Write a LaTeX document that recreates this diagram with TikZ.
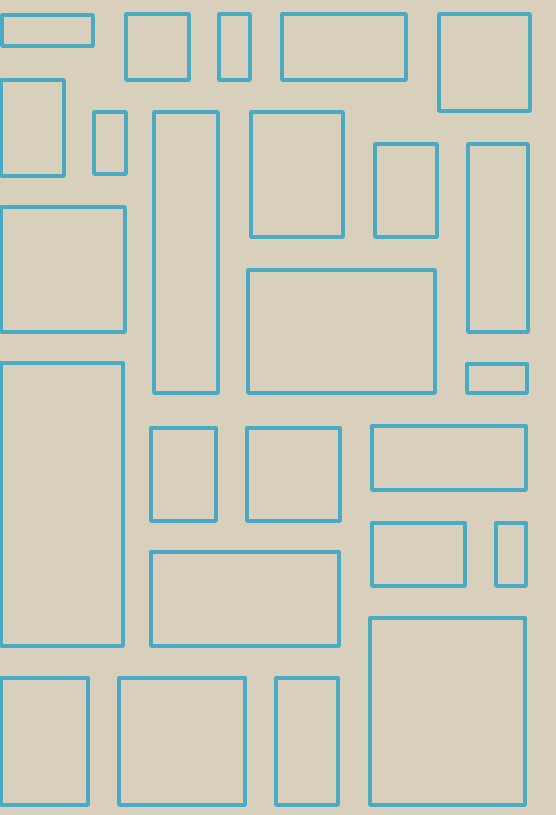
\documentclass[tikz,border=0pt]{standalone}
\definecolor{paper}{RGB}{216,207,189}
\definecolor{ink}{RGB}{74,170,196}
\tikzset{block/.style={draw=ink, line width=3.4pt, line join=round}}
\begin{document}
\begin{tikzpicture}[x=1pt,y=-1pt]
\fill[paper] (0,0) rectangle (556,815);
\useasboundingbox (0,0) rectangle (556,815);
\begin{scope}
\clip (0,0) rectangle (556,815);
% row 1
\draw[block] (2,15) rectangle (93,46);
\draw[block] (126,14) rectangle (189,80);
\draw[block] (219,14) rectangle (250,80);
\draw[block] (282,14) rectangle (406,80);
\draw[block] (439,14) rectangle (530,111);
% row 2
\draw[block] (1,80) rectangle (64,176);
\draw[block] (94,112) rectangle (126,174);
\draw[block] (154,112) rectangle (218,393);
\draw[block] (251,112) rectangle (343,237);
\draw[block] (375,144) rectangle (437,237);
\draw[block] (468,144) rectangle (528,332);
% row 3
\draw[block] (1,207) rectangle (125,332);
\draw[block] (248,270) rectangle (435,393);
\draw[block] (467,364) rectangle (527,393);
% row 4
\draw[block] (1,363) rectangle (123,646);
\draw[block] (151,428) rectangle (216,521);
\draw[block] (247,428) rectangle (340,521);
\draw[block] (372,426) rectangle (526,490);
\draw[block] (372,523) rectangle (465,586);
\draw[block] (496,523) rectangle (526,586);
\draw[block] (151,552) rectangle (339,646);
% bottom
\draw[block] (370,618) rectangle (525,805);
\draw[block] (1,678) rectangle (88,805);
\draw[block] (119,678) rectangle (245,805);
\draw[block] (276,678) rectangle (338,805);
\end{scope}
\end{tikzpicture}
\end{document}
